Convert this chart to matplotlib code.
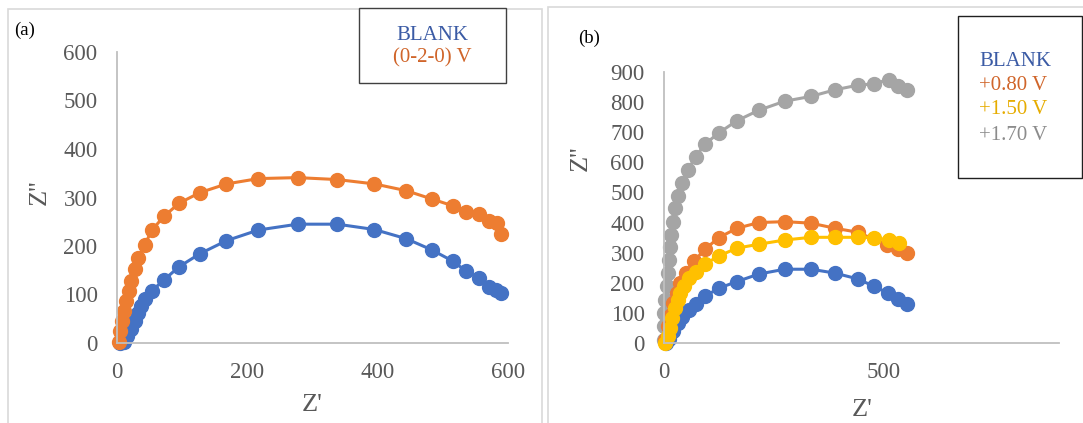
import matplotlib.pyplot as plt
from matplotlib.patches import Rectangle

# panel (a) data
a_blank_x = [5, 11, 16, 21, 27, 32, 37, 43, 53, 72, 95, 127, 168, 217, 277, 338, 395, 444, 483, 515, 536, 556, 571, 581, 589]
a_blank_y = [0, 3, 14, 28, 45, 62, 76, 90, 107, 130, 157, 184, 211, 233, 245, 245, 234, 215, 192, 169, 148, 134, 116, 109, 103]
a_v_x = [3, 5, 8, 11, 14, 19, 21, 27, 32, 43, 53, 72, 95, 127, 168, 217, 277, 338, 395, 444, 483, 515, 536, 556, 571, 583, 589]
a_v_y = [3, 24, 45, 66, 86, 107, 128, 153, 176, 203, 232, 261, 288, 310, 328, 339, 341, 337, 328, 314, 297, 283, 271, 266, 252, 248, 224]

# panel (b) data
b_blank_x = [5, 11, 21, 31, 41, 56, 72, 93, 125, 166, 216, 275, 335, 390, 441, 479, 510, 534, 553]
b_blank_y = [0, 13, 39, 66, 88, 108, 130, 155, 182, 204, 229, 245, 245, 232, 213, 188, 166, 147, 130]
b_080_x = [3, 9, 16, 21, 29, 37, 49, 68, 93, 125, 166, 216, 275, 335, 390, 441, 508, 534, 553]
b_080_y = [11, 55, 94, 133, 166, 199, 232, 271, 311, 350, 381, 400, 403, 398, 381, 368, 326, 311, 298]
b_150_x = [3, 8, 13, 19, 25, 31, 37, 45, 57, 72, 93, 125, 166, 216, 275, 335, 390, 441, 479, 512, 535]
b_150_y = [0, 22, 50, 83, 116, 144, 166, 188, 215, 237, 262, 289, 315, 328, 342, 351, 351, 351, 350, 342, 333]
b_170_x = [1, 1, 1, 3, 6, 9, 12, 14, 17, 21, 25, 33, 42, 54, 72, 93, 125, 166, 216, 275, 335, 390, 441, 479, 512, 534, 553]
b_170_y = [11, 55, 99, 144, 188, 232, 276, 320, 359, 403, 447, 489, 530, 574, 618, 660, 698, 738, 773, 803, 819, 841, 856, 861, 875, 852, 839]

BLUE = '#4472C4'
ORANGE = '#ED7D31'
GRAY = '#A5A5A5'
YELLOW = '#FFC000'
TXT = '#595959'

plt.rcParams['font.family'] = ['Liberation Serif', 'DejaVu Serif']

fig = plt.figure(figsize=(10.83, 4.23), dpi=100)
W, H = 1083, 423

def fx(px):
    return px / W

def fy(py):
    return 1 - py / H

# panel frames
fig.patches.append(Rectangle((fx(8), fy(440)), fx(534), 431 / H, transform=fig.transFigure,
                             fill=False, edgecolor='#d9d9d9', lw=1.2))
fig.patches.append(Rectangle((fx(548), fy(440)), fx(560), 433 / H, transform=fig.transFigure,
                             fill=False, edgecolor='#d9d9d9', lw=1.2))


def style(ax):
    for s in ['top', 'right']:
        ax.spines[s].set_visible(False)
    for s in ['left', 'bottom']:
        ax.spines[s].set_color('#bfbfbf')
        ax.spines[s].set_linewidth(1.3)
    ax.tick_params(length=0, labelsize=16.5, colors=TXT, pad=14)
    ax.set_facecolor('none')


def series(ax, x, y, c):
    ax.plot(x, y, '-o', color=c, lw=2.2, ms=10, clip_on=False)


# panel (a)
ax1 = fig.add_axes([fx(117), fy(343), fx(508 - 117), (343 - 52) / H])
series(ax1, a_blank_x, a_blank_y, BLUE)
series(ax1, a_v_x, a_v_y, ORANGE)
ax1.set_xlim(0, 600)
ax1.set_ylim(0, 600)
ax1.set_xticks([0, 200, 400, 600])
ax1.set_yticks(range(0, 601, 100))
style(ax1)
fig.text(fx(312), fy(405), "Z'", fontsize=19, color=TXT, ha='center', va='center')
fig.text(fx(40), fy(192), "Z''", fontsize=19, color=TXT, ha='center', va='center', rotation=90)
fig.text(fx(14), fy(30), '(a)', fontsize=13.5, color='black', ha='left', va='center')

fig.patches.append(Rectangle((fx(359), fy(83)), fx(147), 75 / H, transform=fig.transFigure,
                             fill=True, facecolor='white', edgecolor='#404040', lw=1.0))
fig.text(fx(432), fy(35), 'BLANK', fontsize=15, color='#3B5BA5', ha='center', va='center')
fig.text(fx(432), fy(58), '(0-2-0) V', fontsize=15, color='#D0652A', ha='center', va='center')

# panel (b)
ax2 = fig.add_axes([fx(664), fy(343), fx(1059 - 664), (343 - 72) / H])
series(ax2, b_170_x, b_170_y, GRAY)
series(ax2, b_blank_x, b_blank_y, BLUE)
series(ax2, b_080_x, b_080_y, ORANGE)
series(ax2, b_150_x, b_150_y, YELLOW)
ax2.set_xlim(0, 900)
ax2.set_ylim(0, 900)
ax2.set_xticks([0, 500])
ax2.set_yticks(range(0, 901, 100))
style(ax2)
fig.text(fx(862), fy(410), "Z'", fontsize=19, color=TXT, ha='center', va='center')
fig.text(fx(581), fy(158), "Z''", fontsize=19, color=TXT, ha='center', va='center', rotation=90)
fig.text(fx(578), fy(38), '(b)', fontsize=13.5, color='black', ha='left', va='center')

fig.patches.append(Rectangle((fx(958), fy(178)), fx(124), 162 / H, transform=fig.transFigure,
                             fill=True, facecolor='white', edgecolor='#202020', lw=1.0))
for lab, col, py in [('BLANK', '#3B5BA5', 62), ('+0.80 V', '#D0652A', 86),
                     ('+1.50 V', '#E6AC00', 110), ('+1.70 V', '#8C8C8C', 135)]:
    fig.text(fx(979), fy(py), lab, fontsize=15, color=col, ha='left', va='center')

fig.savefig('out.png', dpi=100)
